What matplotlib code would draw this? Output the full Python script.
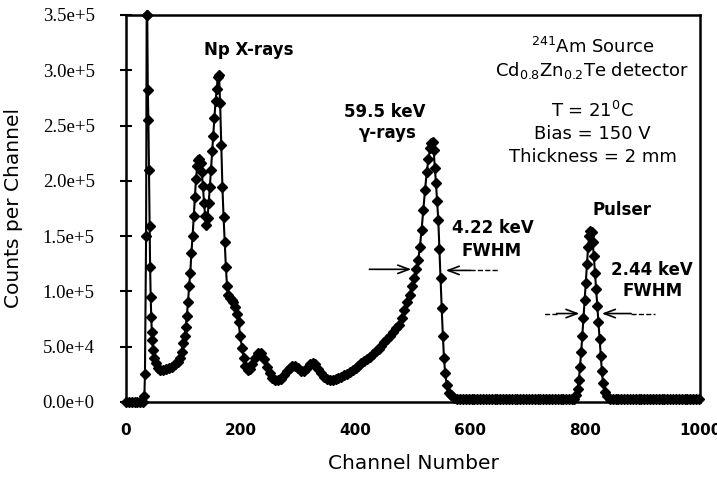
import matplotlib
matplotlib.use('Agg')
import matplotlib.pyplot as plt
import numpy as np

plt.rcParams['font.family'] = 'DejaVu Sans'
plt.rcParams['mathtext.default'] = 'regular'

# spectrum, split by region (channel, counts)
noise_ch = [0, 5, 10, 15, 20, 25, 30, 32, 33, 35, 36, 37, 38, 39, 40, 41, 42, 43, 44,
            45, 46, 47, 49, 52, 55]
noise_counts = [0, 0, 0, 0, 0, 0, 0, 5e3, 2.5e4, 1.5e5, 3.5e5, 3.5e5, 2.82e5, 2.55e5,
                2.1e5, 1.59e5, 1.22e5, 0.95e5, 0.77e5, 0.63e5, 0.56e5, 0.47e5, 0.40e5,
                0.35e5, 0.31e5]

xray_ch = [60, 65, 70, 75, 80, 85, 90, 94, 97, 100, 102, 104, 106, 108, 110, 112, 114,
           116, 118, 120, 122, 124, 126, 128, 130, 132, 134, 136, 138, 140, 142, 144,
           146, 148, 150, 152, 154, 156, 158, 160, 162, 164, 166, 168, 170, 172, 174,
           176, 178, 181, 184, 187, 190, 193, 196, 199, 202, 205, 208, 212, 216, 220,
           225, 230, 235, 240, 245, 250, 255, 260, 265, 270, 275, 280, 285, 290, 295,
           300, 305, 310, 315, 320, 325, 330, 335, 340, 345, 350, 355, 360, 365, 370,
           375, 380, 385, 390, 395, 400, 405, 410, 415, 420, 425, 430, 435, 440]
xray_counts = [0.29e5, 0.29e5, 0.30e5, 0.31e5, 0.32e5, 0.34e5, 0.36e5, 0.40e5, 0.45e5,
               0.53e5, 0.60e5, 0.68e5, 0.78e5, 0.90e5, 1.05e5, 1.17e5, 1.35e5, 1.50e5,
               1.68e5, 1.85e5, 2.02e5, 2.13e5, 2.19e5, 2.20e5, 2.16e5, 2.08e5, 1.95e5,
               1.80e5, 1.68e5, 1.60e5, 1.66e5, 1.80e5, 1.94e5, 2.10e5, 2.27e5, 2.41e5,
               2.57e5, 2.72e5, 2.83e5, 2.94e5, 2.96e5, 2.70e5, 2.32e5, 1.94e5, 1.67e5,
               1.45e5, 1.22e5, 1.05e5, 0.97e5, 0.94e5, 0.92e5, 0.90e5, 0.86e5, 0.80e5,
               0.72e5, 0.60e5, 0.49e5, 0.40e5, 0.33e5, 0.29e5, 0.30e5, 0.34e5, 0.40e5,
               0.44e5, 0.44e5, 0.39e5, 0.32e5, 0.26e5, 0.22e5, 0.20e5, 0.20e5, 0.21e5,
               0.24e5, 0.28e5, 0.31e5, 0.33e5, 0.33e5, 0.31e5, 0.28e5, 0.28e5, 0.31e5,
               0.34e5, 0.35e5, 0.34e5, 0.30e5, 0.26e5, 0.23e5, 0.21e5, 0.20e5, 0.20e5,
               0.21e5, 0.22e5, 0.23e5, 0.24e5, 0.25e5, 0.27e5, 0.29e5, 0.31e5, 0.33e5,
               0.35e5, 0.37e5, 0.39e5, 0.41e5, 0.43e5, 0.46e5, 0.48e5]

gamma_ch = [445, 450, 455, 460, 465, 470, 475, 480, 485, 490, 494, 498, 502, 506, 509,
            512, 515, 518, 521, 524, 527, 530, 532, 534, 536, 538, 540, 542, 544, 546,
            548, 550, 552, 554, 556, 559, 563, 567, 572, 577]
gamma_counts = [0.51e5, 0.54e5, 0.57e5, 0.60e5, 0.63e5, 0.67e5, 0.70e5, 0.76e5, 0.83e5,
                0.90e5, 0.97e5, 1.05e5, 1.12e5, 1.20e5, 1.28e5, 1.40e5, 1.56e5, 1.74e5,
                1.92e5, 2.08e5, 2.20e5, 2.30e5, 2.34e5, 2.35e5, 2.28e5, 2.12e5, 1.98e5,
                1.82e5, 1.65e5, 1.38e5, 1.12e5, 0.85e5, 0.60e5, 0.40e5, 0.26e5, 0.15e5,
                0.08e5, 0.06e5, 0.04e5, 0.03e5]

base_ch = [582, 587, 592, 597, 602, 607, 612, 617, 622, 627, 632, 637, 642, 647, 652,
           657, 662, 667, 672, 677, 682, 687, 692, 697, 702, 707, 712, 717, 722, 727,
           732, 737, 742, 747, 752, 757, 762, 767, 772, 777]
base_counts = [2500, 2500, 2500, 2500, 2500, 2500, 2500, 2500, 2500, 2500, 2500, 2500,
               2500, 2500, 2500, 2500, 2500, 2500, 2500, 2500, 2500, 2500, 2500, 2500,
               2500, 2500, 2500, 2500, 2500, 2500, 2500, 2500, 2500, 2500, 2500, 2500,
               2500, 2500, 2500, 2500]

pulser_ch = [781, 784, 787, 789, 791, 793, 795, 797, 799, 801, 803, 805, 807, 809, 811,
             813, 815, 817, 819, 821, 823, 825, 827, 829, 831, 834, 838, 843, 848, 853,
             858, 863, 868, 873, 878, 883, 888, 893, 898, 903, 908, 913, 918, 923, 928,
             933, 938, 943, 948, 953, 958, 963, 968, 973, 978, 983, 988, 993, 998]
pulser_counts = [0.03e5, 0.06e5, 0.12e5, 0.20e5, 0.32e5, 0.45e5, 0.60e5, 0.76e5, 0.92e5,
                 1.08e5, 1.25e5, 1.40e5, 1.50e5, 1.55e5, 1.54e5, 1.45e5, 1.32e5, 1.17e5,
                 1.02e5, 0.87e5, 0.72e5, 0.57e5, 0.42e5, 0.28e5, 0.17e5, 0.09e5, 0.05e5,
                 0.03e5, 2500, 2500, 2500, 2500, 2500, 2500, 2500, 2500, 2500, 2500, 2500,
                 2500, 2500, 2500, 2500, 2500, 2500, 2500, 2500, 2500, 2500, 2500, 2500,
                 2500, 2500, 2500, 2500, 2500, 2500, 2500, 2500]

x_ticks = [0, 200, 400, 600, 800, 1000]
x_tick_labels = ['0', '200', '400', '600', '800', '1000']
y_ticks = [0, 5e4, 1e5, 1.5e5, 2e5, 2.5e5, 3e5, 3.5e5]
y_tick_labels = ['0.0e+0', '5.0e+4', '1.0e+5', '1.5e+5', '2.0e+5', '2.5e+5',
                 '3.0e+5', '3.5e+5']

channels = np.concatenate([noise_ch, xray_ch, gamma_ch, base_ch, pulser_ch])
counts = np.concatenate([noise_counts, xray_counts, gamma_counts, base_counts,
                         pulser_counts])

fig = plt.figure(figsize=(7.17, 4.78), dpi=100)
ax = fig.add_axes([126 / 717, 1 - 402 / 478, 574 / 717, 387 / 478])

ax.plot(channels, counts, color='black', lw=1.5, marker='D', ms=5,
        clip_on=False, zorder=3)

ax.set_xlim(0, 1000)
ax.set_ylim(0, 3.5e5)
ax.set_xticks(x_ticks)
ax.set_xticklabels(x_tick_labels, fontweight='bold', fontsize=11)
ax.tick_params(axis='x', length=0, pad=15)
ax.set_yticks(y_ticks)
ax.set_yticklabels(y_tick_labels, family='Liberation Serif', fontsize=13.5)
ax.tick_params(axis='y', direction='inout', length=9, width=1.5, pad=18)
for s in ax.spines.values():
    s.set_linewidth(1.8)

ax.set_xlabel('Channel Number', fontsize=14.5)
ax.xaxis.set_label_coords(0.5, -0.135)
ax.set_ylabel('Counts per Channel', fontsize=14.5)
ax.yaxis.set_label_coords(-0.18, 0.5)

# labels on the plot
bold = dict(ha='center', va='center', fontweight='bold', fontsize=12)
ax.text(213, 3.18e5, 'Np X-rays', **bold)
ax.text(451, 2.62e5, '59.5 keV', **bold)
ax.text(455, 2.43e5, 'γ-rays', **bold)
ax.text(640, 1.57e5, '4.22 keV', **bold)
ax.text(637, 1.37e5, 'FWHM', **bold)
ax.text(864, 1.74e5, 'Pulser', **bold)
ax.text(916, 1.19e5, '2.44 keV', **bold)
ax.text(917, 1.00e5, 'FWHM', **bold)

info = dict(ha='center', va='center', fontsize=13)
ax.text(813, 3.21e5, r'$^{241}$Am Source', **info)
ax.text(812, 3.00e5, r'Cd$_{0.8}$Zn$_{0.2}$Te detector', **info)
ax.text(813, 2.63e5, r'T = 21$^{0}$C', **info)
ax.text(813, 2.42e5, 'Bias = 150 V', **info)
ax.text(813, 2.22e5, 'Thickness = 2 mm', **info)


def fwhm_arrow(tip, solid_end, dash_end, y):
    ax.annotate('', xy=(tip, y), xytext=(solid_end, y),
                arrowprops=dict(arrowstyle='->,head_length=0.8,head_width=0.3',
                                lw=1.2, color='black', shrinkA=0, shrinkB=0))
    if dash_end is not None:
        ax.plot([solid_end, dash_end], [y, y], ls='--', lw=1, color='black')


fwhm_arrow(497, 424, None, 1.2e5)
fwhm_arrow(557, 600, 648, 1.19e5)
fwhm_arrow(790, 750, 728, 0.8e5)
fwhm_arrow(829, 880, 922, 0.8e5)

fig.savefig('out.png', dpi=100)
